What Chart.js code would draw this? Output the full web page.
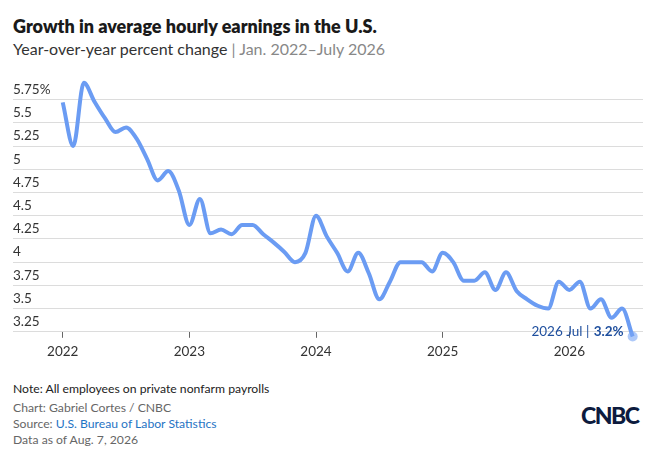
<!DOCTYPE html>
<html>
<head>
<meta charset="utf-8">
<script src="https://cdn.jsdelivr.net/npm/chart.js@4"></script>
<style>
  html, body { margin: 0; padding: 0; background: #fff; }
  body { width: 654px; height: 454px; position: relative; overflow: hidden; font-family: Lato, "Open Sans", sans-serif; }
  .title { position: absolute; left: 13px; top: 15px; font-size: 18px; font-weight: 800; color: #1a1a1a; line-height: 22px; }
  .subtitle { position: absolute; left: 13px; top: 38px; font-size: 16px; color: #333; line-height: 22px; }
  .subtitle .range { color: #888; }
  .chart-box { position: absolute; left: 0; top: 60px; width: 654px; height: 310px; }
  .foot { position: absolute; left: 13px; font-size: 12.2px; line-height: 16px; color: #666; }
  .foot a { color: #1f74c4; text-decoration: none; }
  .logo { position: absolute; left: 581px; top: 401px; font-size: 23px; font-weight: 900; color: #0d1b3e; letter-spacing: -1.5px; font-family: Lato, sans-serif; }
</style>
</head>
<body>
<div class="title">Growth in average hourly earnings in the U.S.</div>
<div class="subtitle">Year-over-year percent change <span class="range">| Jan. 2022–July 2026</span></div>
<div class="chart-box"><canvas id="line-chart"></canvas></div>
<div class="foot" style="top:381px;color:#222;">Note: All employees on private nonfarm payrolls</div>
<div class="foot" style="top:400px;">Chart: Gabriel Cortes / CNBC</div>
<div class="foot" style="top:416px;">Source: <a>U.S. Bureau of Labor Statistics</a></div>
<div class="foot" style="top:432px;">Data as of Aug. 7, 2026</div>
<div class="logo">CNBC</div>

<script>
// monthly data, Jan 2022 .. Jul 2026
const startYear = 2022;
const monthAbbr = ["Jan", "Feb", "Mar", "Apr", "May", "Jun", "Jul", "Aug", "Sep", "Oct", "Nov", "Dec"];
const yearLabels = ["2022", "2023", "2024", "2025", "2026"];
const earningsGrowth = [
  5.72, 5.25, 5.93, 5.73, 5.55, 5.40, 5.45, 5.33, 5.11, 4.88, 4.98, 4.77,
  4.40, 4.68, 4.31, 4.35, 4.30, 4.40, 4.40, 4.30, 4.21, 4.11, 4.00, 4.10,
  4.50, 4.28, 4.10, 3.90, 4.10, 3.88, 3.60, 3.79, 4.00, 4.00, 4.00, 3.90,
  4.10, 4.00, 3.80, 3.80, 3.89, 3.70, 3.89, 3.69, 3.60, 3.53, 3.50, 3.79,
  3.70, 3.79, 3.50, 3.60, 3.40, 3.50, 3.20,
];
const yTicks = [3.25, 3.5, 3.75, 4, 4.25, 4.5, 4.75, 5, 5.25, 5.5, 5.75];

const lineColor = "#6b9cf3";
const lastIdx = earningsGrowth.length - 1;

const points = earningsGrowth.map((v, i) => ({ x: i, y: v }));

const lastLabel = {
  id: "lastLabel",
  afterDatasetsDraw(chart) {
    const pt = chart.getDatasetMeta(0).data[lastIdx];
    const ctx = chart.ctx;
    const yr = startYear + Math.floor(lastIdx / 12);
    const mo = monthAbbr[lastIdx % 12];
    const val = earningsGrowth[lastIdx] + "%";
    const endX = pt.x - 9;
    const y = pt.y - 5;
    ctx.save();
    ctx.fillStyle = "#1f4f9e";
    ctx.textBaseline = "middle";
    ctx.textAlign = "right";
    ctx.font = "700 13.5px Lato, sans-serif";
    ctx.fillText(val, endX, y);
    const w = ctx.measureText(val).width;
    ctx.font = "400 13.5px Lato, sans-serif";
    ctx.fillText(yr + " " + mo + " | ", endX - w - 1, y);
    ctx.restore();
  },
};

new Chart(document.getElementById("line-chart"), {
  type: "line",
  data: {
    datasets: [
      {
        data: points,
        borderColor: lineColor,
        backgroundColor: "rgba(120,165,245,0.6)",
        borderWidth: 4,
        cubicInterpolationMode: "monotone",
        fill: false,
        clip: false,
        pointRadius: (c) => (c.dataIndex === lastIdx ? 5 : 0),
        pointBorderWidth: 0,
        pointHoverRadius: 0,
      },
    ],
  },
  options: {
    animation: false,
    responsive: true,
    maintainAspectRatio: false,
    layout: { padding: { left: 13, right: 11, top: 21, bottom: 4 } },
    plugins: { legend: { display: false }, tooltip: { enabled: false } },
    scales: {
      x: {
        type: "linear",
        min: -4.71,
        max: 54.98,
        afterBuildTicks: (s) => { s.ticks = yearLabels.map((_, i) => ({ value: i * 12 })); },
        ticks: {
          callback: (v) => yearLabels[v / 12],
          color: "#333",
          font: { family: "Lato, sans-serif", size: 13.5 },
          padding: 6,
          maxRotation: 0,
        },
        grid: { drawOnChartArea: false, drawTicks: true, tickLength: 6, color: "#666", lineWidth: 1 },
        border: { display: false },
      },
      y: {
        min: 3.25,
        max: 5.95,
        afterBuildTicks: (s) => { s.ticks = yTicks.map((v) => ({ value: v })); },
        ticks: {
          mirror: true,
          padding: 0,
          labelOffset: -10,
          color: "#333",
          font: { family: "Lato, sans-serif", size: 13.5 },
          callback: (v) => (v === yTicks[yTicks.length - 1] ? v + "%" : String(v)),
        },
        grid: { color: "#dcdcdc", lineWidth: 1, drawTicks: false },
        border: { display: false },
      },
    },
  },
  plugins: [lastLabel],
});
</script>
</body>
</html>
